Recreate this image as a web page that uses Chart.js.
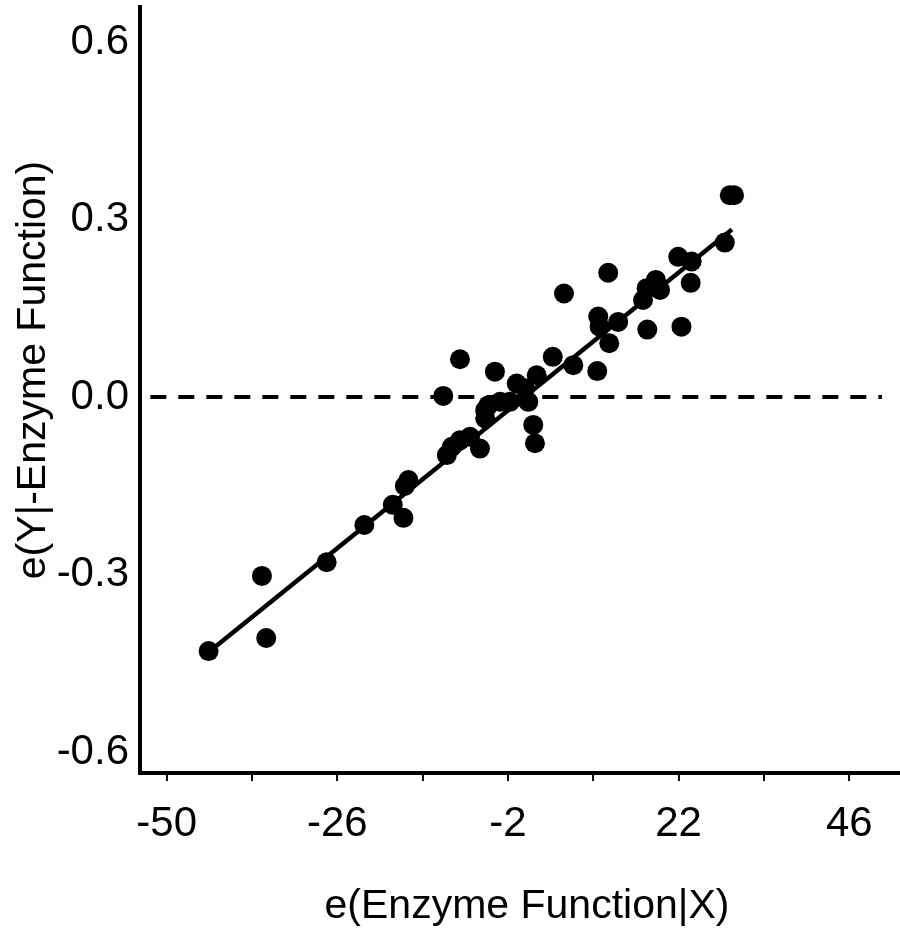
<!DOCTYPE html>
<html lang="en">
<head>
    <meta charset="UTF-8">
    <title>Added variable plot</title>
    <style>
        body {margin: 0; background: #fff;}
        #wrap {width: 900px; height: 931px;}
    </style>
    <script src="https://cdn.jsdelivr.net/npm/chart.js@4.4.1/dist/chart.umd.min.js"></script>
</head>
<body>
    <div id="wrap">
        <canvas id="avChart"></canvas>
    </div>

    <script>
        // residuals
        const residX = [-44.1, -36.6, -36.0, -27.5, -22.2, -18.2, -16.5, -16.0, -16.7, -11.1,
                        -10.6, -9.9, -8.75, -7.34, -8.75, -5.94, -5.2, -5.2, -4.77, -3.83,
                        -3.1, -1.72, -0.77, 0.4, 0.86, 1.56, 1.8, 2.04, 4.3, 5.88,
                        7.19, 10.56, 10.7, 10.9, 12.1, 12.25, 13.5, 17.0, 17.5, 17.6,
                        18.8, 19.4, 21.95, 22.4, 23.7, 23.84, 28.5, 29.2, 29.8];
        const residY = [-0.429, -0.302, -0.407, -0.279, -0.216, -0.182, -0.150, -0.140, -0.204, 0.002,
                        -0.098, -0.084, -0.073, -0.067, 0.064, -0.087, -0.036, -0.022, -0.014, 0.043,
                        -0.008, -0.008, 0.023, 0.015, -0.008, -0.047, -0.078, 0.037, 0.068, 0.175,
                        0.054, 0.044, 0.136, 0.119, 0.210, 0.091, 0.127, 0.164, 0.184, 0.114,
                        0.198, 0.181, 0.237, 0.119, 0.193, 0.229, 0.261, 0.341, 0.341];

        // fitted line and the zero reference line
        const fitX = [-43.9, 29.5];
        const fitY = [-0.429, 0.283];
        const zeroX = [-52.3, 50.6];
        const zeroY = [0, 0];

        const xTicks = [-50, -38, -26, -14, -2, 10, 22, 34, 46];
        const xLabelled = [-50, -26, -2, 22, 46];
        const yTicks = [-0.6, -0.3, 0.0, 0.3, 0.6];

        const xTitle = 'e(Enzyme Function|X)';
        const yTitle = 'e(Y|-Enzyme Function)';

        function toPoints(xs, ys) {
            return xs.map(function (x, i) { return {x: x, y: ys[i]}; });
        }

        const FONT = "'Liberation Sans', Arial, sans-serif";

        // axis titles drawn by hand so they sit where the original has them
        const titlePlugin = {
            id: 'axisTitles',
            afterDraw(chart) {
                const c = chart.ctx;
                c.save();
                c.fillStyle = '#000';
                c.font = '41px ' + FONT;
                c.textAlign = 'center';
                c.textBaseline = 'alphabetic';
                c.fillText(xTitle, 527, 918);
                c.translate(45, 370);
                c.rotate(-Math.PI / 2);
                c.fillText(yTitle, 0, 0);
                c.restore();
            }
        };

        // fixed scale sizes, and no extra room for overhanging tick labels
        function noPad(scale) {
            scale.paddingTop = 0;
            scale.paddingBottom = 0;
            scale.paddingLeft = 0;
            scale.paddingRight = 0;
        }

        const ctx = document.getElementById('avChart');
        var chart = new Chart(ctx, {
            type: 'scatter',
            data: {
                datasets: [{
                    label: 'zero',
                    data: toPoints(zeroX, zeroY),
                    showLine: true,
                    borderColor: '#000',
                    borderWidth: 4,
                    borderDash: [16, 12],
                    pointRadius: 0
                }, {
                    label: 'fit',
                    data: toPoints(fitX, fitY),
                    showLine: true,
                    borderColor: '#000',
                    borderWidth: 4.5,
                    pointRadius: 0
                }, {
                    label: 'residuals',
                    data: toPoints(residX, residY),
                    backgroundColor: '#000',
                    borderColor: '#000',
                    borderWidth: 0,
                    pointRadius: 10
                }]
            },
            options: {
                responsive: true,
                maintainAspectRatio: false,
                animation: false,
                events: [],
                layout: {autoPadding: false, padding: {top: 7, right: 0, left: 0, bottom: 0}},
                plugins: {
                    legend: {display: false},
                    tooltip: {enabled: false}
                },
                scales: {
                    x: {
                        type: 'linear',
                        min: -53.75,
                        max: 53.14,
                        afterBuildTicks: function (scale) {
                            scale.ticks = xTicks.map(function (v) { return {value: v}; });
                        },
                        afterFit: function (scale) { scale.height = 158; noPad(scale); },
                        border: {display: true, color: '#000', width: 4},
                        grid: {
                            display: true,
                            drawOnChartArea: false,
                            drawTicks: true,
                            tickLength: 8,
                            tickColor: '#000',
                            lineWidth: 2
                        },
                        ticks: {
                            autoSkip: false,
                            maxRotation: 0,
                            padding: 18,
                            color: '#000',
                            font: {family: FONT, size: 42},
                            callback: function (v) {
                                return xLabelled.indexOf(v) >= 0 ? String(v) : '';
                            }
                        }
                    },
                    y: {
                        type: 'linear',
                        min: -0.635,
                        max: 0.659,
                        afterBuildTicks: function (scale) {
                            scale.ticks = yTicks.map(function (v) { return {value: v}; });
                        },
                        afterFit: function (scale) { scale.width = 140; noPad(scale); },
                        border: {display: true, color: '#000', width: 4},
                        grid: {display: false, drawTicks: false},
                        ticks: {
                            padding: 11,
                            color: '#000',
                            font: {family: FONT, size: 42},
                            callback: function (v) { return v.toFixed(1); }
                        }
                    }
                }
            },
            plugins: [titlePlugin]
        });
    </script>
</body>
</html>
